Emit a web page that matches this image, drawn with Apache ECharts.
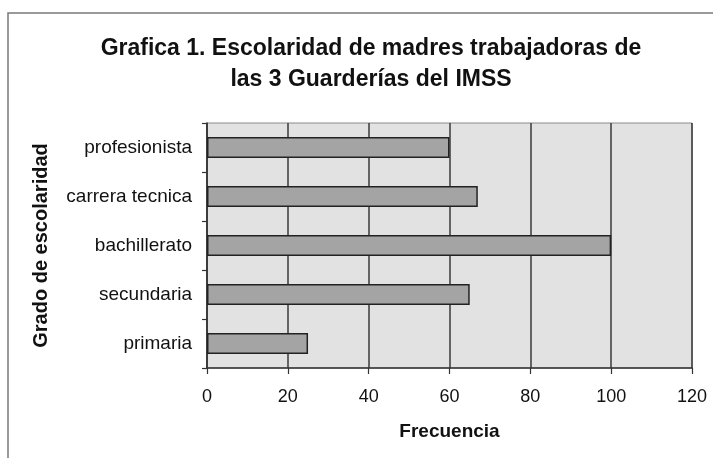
<!DOCTYPE html>
<html>
<head>
<meta charset="utf-8">
<script src="https://cdn.jsdelivr.net/npm/echarts@6/dist/echarts.min.js"></script>
<style>
  html, body { margin: 0; padding: 0; background: #fff; }
  #grafica { width: 713px; height: 458px; }
</style>
</head>
<body>
<div id="grafica"></div>
<script>
// datos
const niveles = ["profesionista", "carrera tecnica", "bachillerato", "secundaria", "primaria"];
const frecuencias = [60, 67, 100, 65, 25];
const ticksX = [0, 20, 40, 60, 80, 100, 120];

const chart = echarts.init(document.getElementById("grafica"));
chart.setOption({
  backgroundColor: "#ffffff",
  textStyle: { fontFamily: "Liberation Sans, Arial, sans-serif" },
  graphic: [
    {
      type: "rect",
      shape: { x: 8, y: 13, width: 720, height: 470 },
      style: { fill: "none", stroke: "#7a7a7a", lineWidth: 1.5 },
      silent: true,
    },
  ],
  title: {
    text: "Grafica 1. Escolaridad de madres trabajadoras de\nlas 3 Guarderías del IMSS",
    left: 366,
    top: 28,
    textAlign: "center",
    textStyle: {
      fontFamily: "Liberation Sans, Arial, sans-serif",
      fontSize: 23,
      fontWeight: "bold",
      lineHeight: 31,
      color: "#111",
    },
  },
  grid: {
    left: 207,
    right: 21,
    top: 123,
    bottom: 90,
    show: true,
    backgroundColor: "#e2e2e2",
    borderColor: "#8a8a8a",
    borderWidth: 1,
  },
  xAxis: {
    type: "value",
    min: ticksX[0],
    max: ticksX[ticksX.length - 1],
    interval: 20,
    name: "Frecuencia",
    nameLocation: "middle",
    nameGap: 54,
    nameTextStyle: { fontSize: 19, fontWeight: "bold", color: "#111" },
    axisLine: { show: true, lineStyle: { color: "#333", width: 1.5 } },
    axisTick: { show: true, length: 6, lineStyle: { color: "#333", width: 1.2 } },
    axisLabel: { fontSize: 18, color: "#111", margin: 20 },
    splitLine: { show: true, lineStyle: { color: "#3a3a3a", width: 1.5 } },
  },
  yAxis: {
    type: "category",
    data: niveles,
    inverse: true,
    name: "Grado de escolaridad",
    nameLocation: "middle",
    nameGap: 156,
    nameRotate: 90,
    nameTextStyle: { fontSize: 20, fontWeight: "bold", color: "#111" },
    axisLine: { show: true, lineStyle: { color: "#333", width: 1.5 } },
    axisTick: { show: true, length: 5, lineStyle: { color: "#333", width: 1.2 } },
    axisLabel: { fontSize: 19, color: "#111", margin: 15 },
    splitLine: { show: false },
  },
  series: [
    {
      type: "bar",
      data: frecuencias,
      barWidth: 21,
      itemStyle: { color: "#a4a4a4", borderColor: "#222", borderWidth: 1.5 },
      silent: true,
    },
  ],
});
</script>
</body>
</html>
